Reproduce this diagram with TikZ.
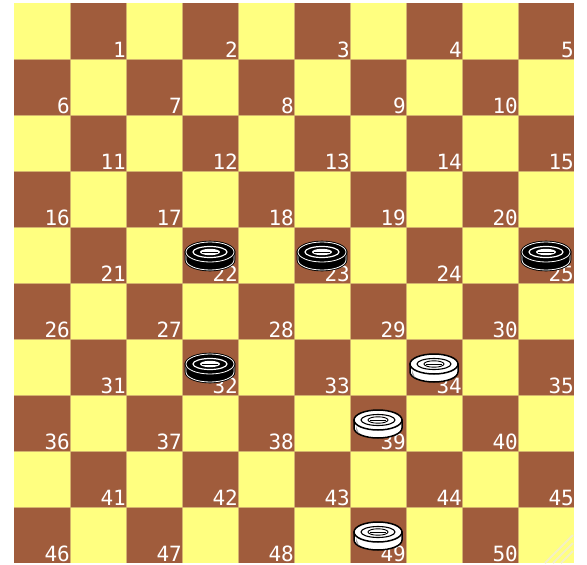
\documentclass[tikz,border=0pt]{standalone}
\usepackage{fontspec}
\newfontfamily\numfont{DejaVu Sans Mono}
\definecolor{lightsq}{HTML}{FFFF80}
\definecolor{darksq}{HTML}{A05C3C}
\definecolor{gridc}{HTML}{D4B46C}
\definecolor{gripc}{HTML}{F4F0C4}
\newcommand\blackman[2]{%
  \begin{scope}[shift={(#1,#2)}]
    \path[fill=black,draw=black,line width=2.6] (-24,-4) -- (-24,4) arc[start angle=180,end angle=0,x radius=24,y radius=10] -- (24,-4) -- cycle;
    \draw[white,line width=0.8] (-24,-4) -- (-24,4) arc[start angle=180,end angle=0,x radius=24,y radius=10] -- (24,-4);
    \path[fill=black,draw=black,line width=2.6] (0,-4) ellipse[x radius=24,y radius=10];
    \draw[white,line width=0.8] (0,-4) ellipse[x radius=24,y radius=10];
    \draw[white,line width=1.2] (0,-4) ellipse[x radius=17,y radius=5.5];
    \fill[white] (0,-4) ellipse[x radius=10,y radius=3.2];
    \draw[black,line width=0.9] (-8,-4) -- (8,-4);
  \end{scope}}
\newcommand\whiteman[2]{%
  \begin{scope}[shift={(#1,#2)}]
    \path[fill=white,draw=black,line width=1.5] (-24,-4) -- (-24,4) arc[start angle=180,end angle=0,x radius=24,y radius=10] -- (24,-4) -- cycle;
    \fill[black!35] (-22,2) -- (-22,5) arc[start angle=180,end angle=150,x radius=22,y radius=9] -- cycle;
    \path[fill=white,draw=black,line width=1.5] (0,-4) ellipse[x radius=24,y radius=10];
    \draw[black,line width=1.1] (0,-4) ellipse[x radius=17,y radius=5.5];
    \draw[black,line width=0.9] (0,-4) ellipse[x radius=10,y radius=3.2];
    \draw[black,line width=0.9] (-8,-4) -- (8,-4);
  \end{scope}}
\begin{document}
\begin{tikzpicture}[x=1pt,y=-1pt,
  sqnum/.style={font=\numfont\fontsize{21}{21}\selectfont, text=white, anchor=base east, inner sep=0pt}]
\useasboundingbox (0,0) rectangle (587,565);
\fill[white] (0,0) rectangle (587,565);
\foreach \r in {0,...,9}{
  \foreach \c in {0,...,9}{
    \pgfmathtruncatemacro\dk{mod(\r+\c,2)}
    \ifnum\dk=1
      \fill[darksq] ({14+56*\c},{3+56*\r}) rectangle ++(56,56);
    \else
      \fill[lightsq] ({14+56*\c},{3+56*\r}) rectangle ++(56,56);
    \fi
  }
}
\foreach \k in {1,...,9}{
  \draw[gridc,line width=1] ({14+56*\k},3) -- ({14+56*\k},563);
  \draw[gridc,line width=1] (14,{3+56*\k}) -- (574,{3+56*\k});
}
\foreach \r in {0,...,9}{
  \foreach \c in {0,...,9}{
    \pgfmathtruncatemacro\dk{mod(\r+\c,2)}
    \ifnum\dk=1
      \pgfmathtruncatemacro\n{\r*5+floor(\c/2)+1}
      \node[sqnum] (n\n) at ({14+56*\c+56},{3+56*\r+54}) {\n};
    \fi
  }
}
% resize grip
\draw[gripc,line width=2] (545,563) -- (573,535);
\draw[gripc,line width=2] (553,563) -- (573,543);
\draw[gripc,line width=2] (561,563) -- (573,551);
% pieces
\blackman{210}{256}
\blackman{322}{256}
\blackman{546}{256}
\blackman{210}{368}
\whiteman{434}{368}
\whiteman{378}{424}
\whiteman{378}{536}
\end{tikzpicture}
\end{document}
